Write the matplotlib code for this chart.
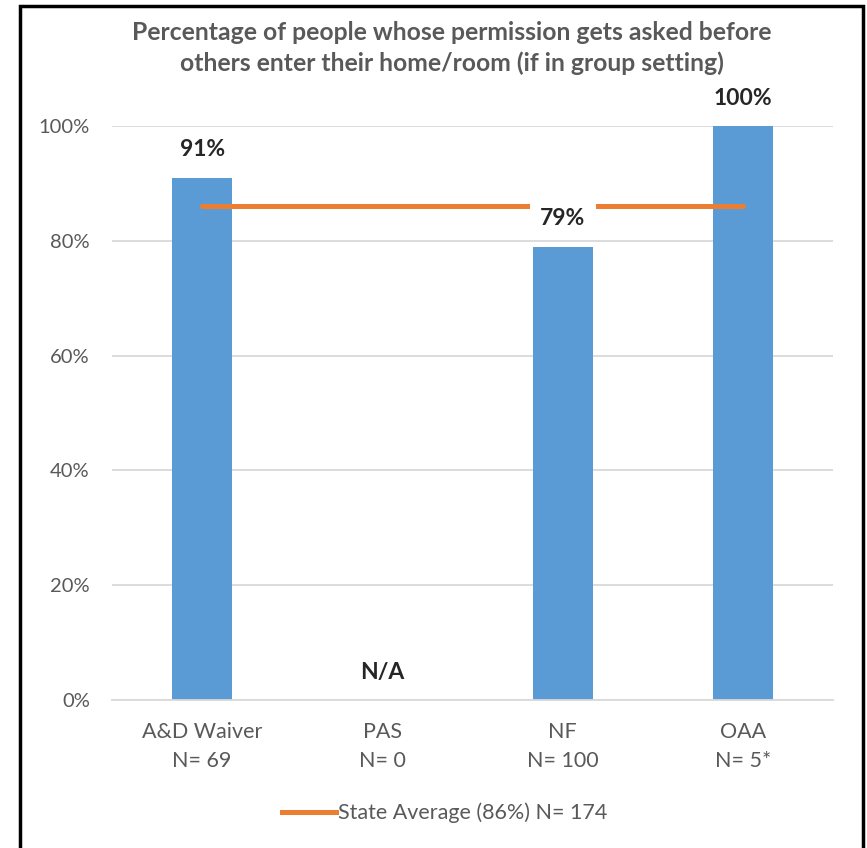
import matplotlib.pyplot as plt
import numpy as np
from matplotlib.patches import Rectangle
from matplotlib.lines import Line2D

plt.rcParams['font.family'] = ['Lato', 'DejaVu Sans']

# data
categories = ['A&D Waiver', 'PAS', 'NF', 'OAA']
n_values = ['69', '0', '100', '5*']
values = [0.91, np.nan, 0.79, 1.00]
value_labels = ['91%', 'N/A', '79%', '100%']
state_avg = 0.86
state_n = 174

gray = '#595959'
blue = '#5B9BD5'
orange = '#ED7D31'

fig = plt.figure(figsize=(8.67, 8.48), dpi=100)
ax = fig.add_axes([112/867, 1 - 700/848, 721/867, 574/848])

x = np.arange(len(categories))
heights = np.nan_to_num(values)
ax.bar(x, heights, width=0.333, color=blue, zorder=2)

# state average line across categories
ax.plot(x, [state_avg]*len(x), color=orange, lw=3.6,
        solid_capstyle='round', zorder=3)

# value labels above bars (white box hides the line, like Excel)
for xi, h, lab in zip(x, heights, value_labels):
    ax.annotate(lab, xy=(xi, h), xytext=(0, 20), textcoords='offset points',
                ha='center', va='center', fontsize=16.5, fontweight='bold',
                color='#262626', zorder=4,
                bbox=dict(boxstyle='square,pad=0.45', fc='white', ec='none'))

ax.set_xlim(-0.5, 3.5)
ax.set_ylim(0, 1)
ax.set_yticks(np.arange(0, 1.01, 0.2))
ax.set_yticklabels([f'{int(round(v*100))}%' for v in np.arange(0, 1.01, 0.2)])
ax.set_xticks(x)
ax.set_xticklabels([f'{c}\nN= {n}' for c, n in zip(categories, n_values)],
                   linespacing=1.55)
ax.tick_params(axis='both', length=0, colors=gray, labelsize=14.5)
ax.tick_params(axis='x', labelsize=15.5, pad=16)
ax.tick_params(axis='y', pad=16)
ax.yaxis.grid(True, color='#D9D9D9', lw=1.3, zorder=0)
ax.set_axisbelow(True)
for s in ['top', 'right', 'left']:
    ax.spines[s].set_visible(False)
ax.spines['bottom'].set_color('#D9D9D9')
ax.spines['bottom'].set_linewidth(1.3)

fig.text(452/867, 1 - 48/848,
         'Percentage of people whose permission gets asked before\n'
         'others enter their home/room (if in group setting)',
         ha='center', va='center', fontsize=17.8, fontweight='bold',
         color=gray, linespacing=1.35)

handle = Line2D([], [], color=orange, lw=3.6)
fig.legend([handle], [f'State Average ({int(state_avg*100)}%) N= {state_n}'],
           loc='center', bbox_to_anchor=(445/867, 1 - 813/848), frameon=False,
           fontsize=15.5, labelcolor=gray, handlelength=2.5, handletextpad=0.1)

# black frame around the chart
fig.patches.append(Rectangle((20/867, -0.05), 843/867, 1.05 - 6/848,
                             transform=fig.transFigure, fill=False,
                             ec='black', lw=2.5))

fig.savefig('out.png', dpi=100)
